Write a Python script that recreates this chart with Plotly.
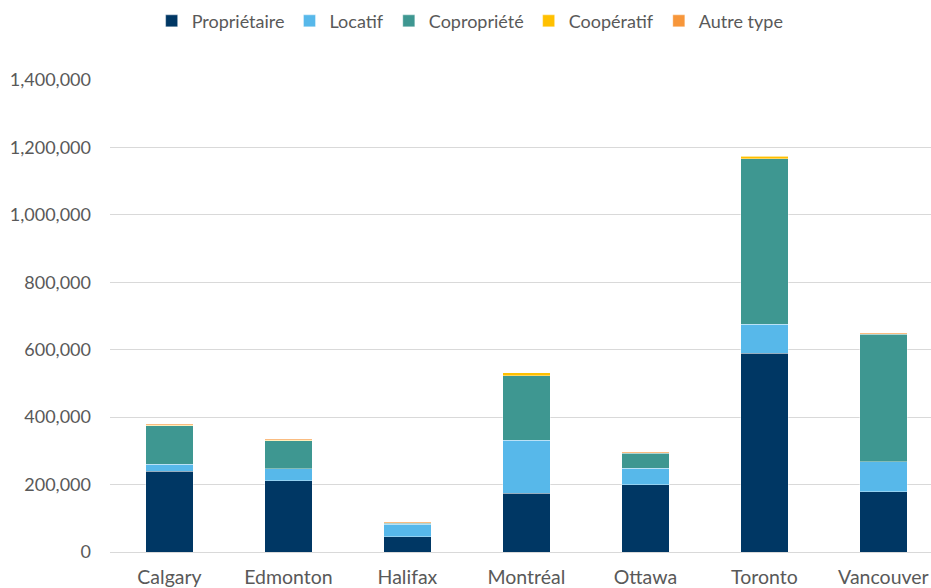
import plotly.graph_objects as go

cities = ["Calgary", "Edmonton", "Halifax", "Montréal", "Ottawa", "Toronto", "Vancouver"]
proprietaire = [240000, 211000, 45000, 174000, 200000, 590000, 179000]
locatif = [20000, 36000, 38000, 157000, 49000, 86000, 89000]
copropriete = [115000, 83000, 3000, 192000, 44000, 490000, 378000]
cooperatif = [1000, 1000, 1000, 8000, 1000, 8000, 2000]
autre_type = [3000, 3000, 2000, 1000, 3000, 1000, 2000]

series = [
    ("Propriétaire", proprietaire, "#003764"),
    ("Locatif", locatif, "#57B8EA"),
    ("Copropriété", copropriete, "#3E9791"),
    ("Coopératif", cooperatif, "#FFC000"),
    ("Autre type", autre_type, "#F7963A"),
]

fig = go.Figure()
for name, vals, color in series:
    fig.add_trace(go.Bar(
        name=name, x=cities, y=vals,
        marker=dict(color=color, line=dict(width=0.6, color="rgba(255,255,255,0.6)")),
    ))

font_family = "Lato, 'Open Sans', sans-serif"
fig.update_layout(
    barmode="stack",
    bargap=0.6,
    width=931, height=588,
    margin=dict(l=110, r=0, t=80, b=36),
    plot_bgcolor="white", paper_bgcolor="white",
    font=dict(family=font_family, size=18, color="#595959"),
    legend=dict(
        orientation="h", xref="container", yref="container",
        x=0.505, xanchor="center", y=0.964, yanchor="middle",
        font=dict(size=18, color="#595959"),
        itemwidth=30, traceorder="normal",
    ),
    xaxis=dict(
        range=[-0.5, 6.4],
        showgrid=False,
        showline=True, linecolor="#d9d9d9", linewidth=1,
        tickfont=dict(size=19.5, color="#595959"),
        ticks="", ticklabelstandoff=8,
    ),
    yaxis=dict(
        range=[0, 1400000],
        dtick=200000,
        tickformat=",",
        showgrid=True, gridcolor="#d9d9d9", gridwidth=1,
        zeroline=False,
        tickfont=dict(size=18, color="#595959"),
        ticks="", ticklabelstandoff=18,
    ),
)

fig.write_html("out.html")
